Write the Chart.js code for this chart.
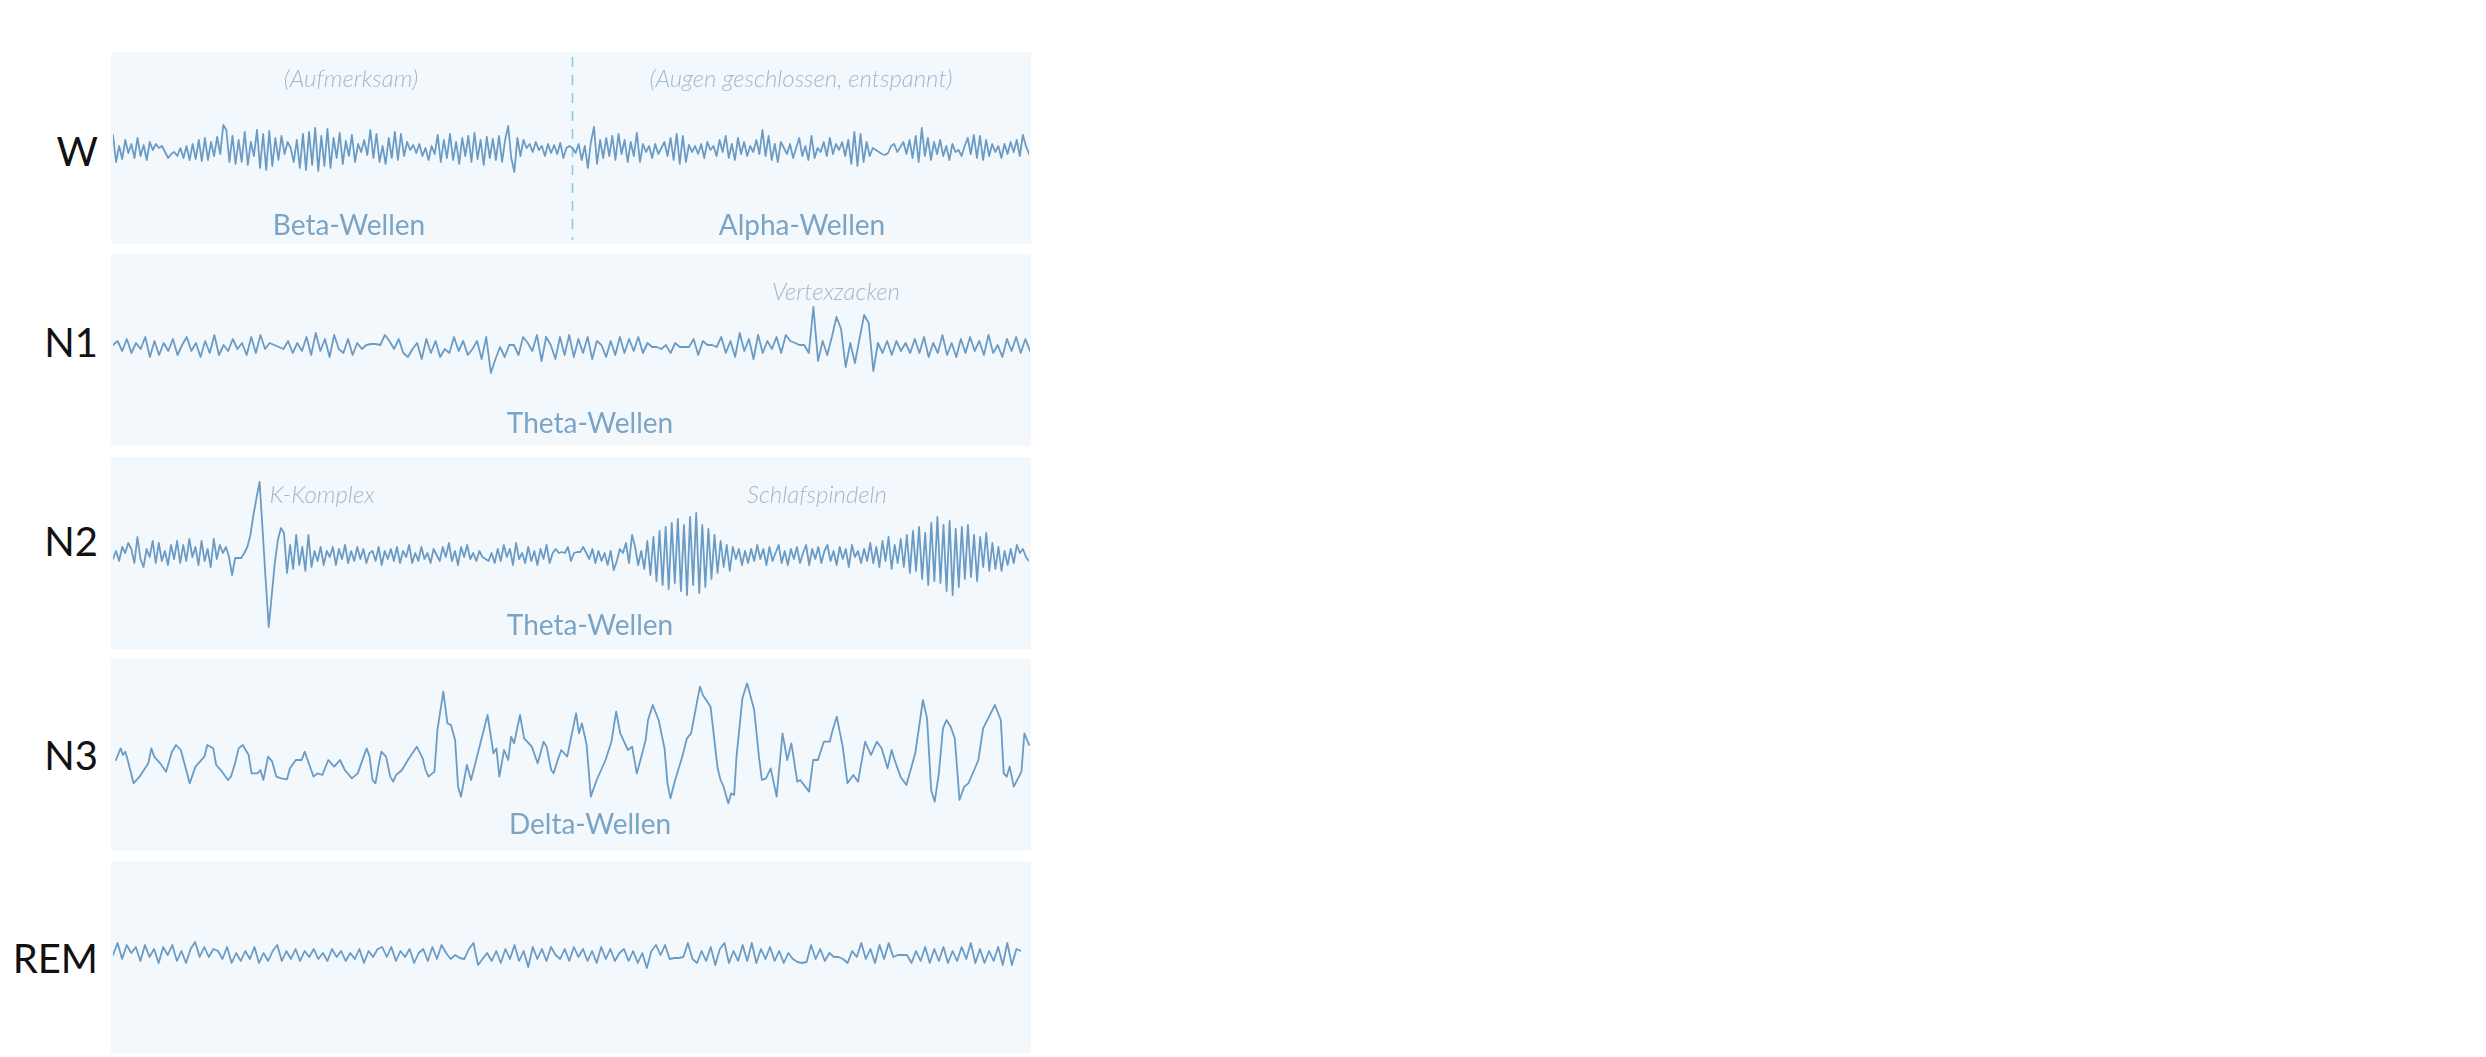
<!DOCTYPE html>
<html lang="de">
<head>
<meta charset="utf-8">
<title>Schlafstadien EEG</title>
<script src="https://cdn.jsdelivr.net/npm/chart.js@4.4.1/dist/chart.umd.min.js"></script>
<style>
  html, body { margin:0; padding:0; background:#ffffff; width:2486px; height:1057px; overflow:hidden;
    font-family: Lato, "Open Sans", "DejaVu Sans", sans-serif; }
  .panel { position:absolute; left:111px; width:920px; height:192px; background:#f3f8fd; }
  .panel canvas { position:absolute; left:0; top:0; }
  .stage { position:absolute; left:0; width:98px; text-align:right; font-size:40px; line-height:40px;
    color:#111111; transform:translateY(-50%); }
  .wname { position:absolute; font-size:28px; line-height:28px; color:#7aa4c6; white-space:nowrap;
    transform:translate(-50%,-50%); }
  .note { position:absolute; font-size:24px; line-height:24px; color:#a2b9cb; font-style:italic; font-weight:300;
    white-space:nowrap; transform:translate(-50%,-50%); }
</style>
</head>
<body>
<div id="root"></div>
<script>
// ---------------- DATA ----------------
const stageLabels = ['W', 'N1', 'N2', 'N3', 'REM'];
const waveNames = ['Beta-Wellen', 'Alpha-Wellen', 'Theta-Wellen', 'Theta-Wellen', 'Delta-Wellen'];
const notes = ['(Aufmerksam)', '(Augen geschlossen, entspannt)', 'Vertexzacken', 'K-Komplex', 'Schlafspindeln'];

// W: beta (attentive) followed by alpha (eyes closed)
const wBeta = [
  15, -12, 4, -9, 10, -3, 6, -8, 12, -6,
  5, -10, 8, 0, 6, 2, 4, -2, -8, -4,
  -2, -6, 2, -8, 4, -10, 6, -9, 10, -11,
  12, -10, 8, -6, 13, -4, 25, 20, -12, 14,
  -14, 10, -12, 18, -15, 8, -6, 20, -18, 16,
  -20, 19, -16, 12, -10, 14, -4, 8, 2, -12,
  10, -18, 16, -20, 18, -15, 22, -21, 14, -16,
  21, -18, 12, -8, 17, -14, 9, -6, 15, -12,
  6, -2, 10, -5, 20, -8, 16, -12, 4, -14,
  12, -8, 18, -10, 16, -6, 8, 0, 5, -3,
  6, -6, 2, -10, 4, -4, 15, -12, 10, -8,
  16, -10, 8, -14, 12, -6, 14, -12, 17, -9,
  10, -15, 13, -8, 11, -10, 14, -12, 10, 24,
  -8, -22, 12, -6, 10, 2, 6, -2, 8, 0,
  4, -6, 6, -3, 5, -4, 7, -8, 2, 4
];
const wAlpha = [
  2, -3, 6, -10, 4, -18, 8, 23, -14, 10,
  -8, 12, -6, 14, -10, 16, -4, 10, -12, 8,
  -6, 17, -12, 6, -2, 4, -8, 6, -4, 2,
  8, -6, 12, -10, 16, -14, 14, -12, 5, -2,
  4, -4, 6, -8, 8, 0, 4, -6, 10, -2,
  14, -8, 6, -10, 12, -4, 8, -6, 4, -2,
  10, -4, 20, -6, 14, -10, 6, -12, 8, 2,
  -4, 6, -8, 2, 12, -6, 4, -10, 14, -8,
  2, -2, 8, -6, 12, -4, 6, 0, 8, -6,
  10, -14, 18, -16, 16, -12, 8, -6, 2, 0,
  -2, -4, -5, -3, 4, 6, -2, 3, 8, -4,
  10, -8, 14, -12, 22, -6, 12, -10, 8, -4,
  10, -6, 4, -10, 6, -2, 0, -6, 4, 12,
  -4, 15, -8, 14, -10, 10, -6, 6, -2, 4,
  -8, 6, -4, 8, -2, 10, -6, 15, 4, -4
];

// N1: theta with vertex waves
const n1Values = [
  2, 6, -4, 8, -6, 4, -2, 10, -10, 6,
  -8, 4, -4, 8, -8, 2, 10, -4, 4, -10,
  6, -6, 12, -8, 2, -4, 8, -2, 4, -8,
  10, -6, 12, -2, 4, 2, 0, -2, 6, -6,
  4, -4, 10, -8, 14, -4, 8, -10, 12, -2,
  -6, 8, -8, 4, -2, 2, 3, 3, 2, 12,
  6, -2, 8, -6, -10, -2, 4, -12, 8, -6,
  6, -10, -2, -6, 10, -4, 6, -8, -2, 6,
  -12, 10, -26, -12, 0, -10, 2, 2, -8, 10,
  4, -4, 12, -14, 10, 2, -12, 10, -8, 12,
  -10, 8, -6, 10, -12, 6, 2, -10, 6, -8,
  10, -6, 8, -4, 10, -6, 4, 0, 0, -2,
  2, -6, 4, 0, 0, 0, 8, -8, 6, 2,
  2, 0, 10, -6, 6, -10, 14, -4, 8, -12,
  12, -6, 6, -2, 10, -6, 12, 6, 4, 2,
  2, -6, 40, -14, 6, -8, 10, 30, 18, -20,
  4, -16, 8, 32, 24, -24, 4, -6, 6, -8,
  6, -4, 4, -6, 8, -6, 10, -10, 4, -6,
  12, -8, 4, -10, 8, -6, 10, -4, 6, -8,
  12, -6, 2, -10, 8, -4, 10, -6, 8, -4
];

// N2: theta with K-complex and sleep spindles
const n2Values = [
  -4, 4, -6, 8, 2, 12, 6, -8, 18, -4,
  -12, 6, -2, 14, -8, 12, -6, 4, -10, 10,
  -4, 14, -8, 10, -6, 16, -2, 8, -10, 14,
  -6, 6, -12, 16, -4, 10, 2, 8, -2, -20,
  -3, -3, -3, 2, 8, 20, 40, 57, 73, 25,
  -25, -72, -40, -8, 15, 27, 22, -18, 10, -14,
  20, -10, 8, -16, 20, -12, 4, -6, 8, -10,
  4, -2, 8, -10, 6, -4, 10, -8, 4, -6,
  8, -4, 6, -8, 2, 4, -6, 8, -10, 4,
  -4, 6, -6, 8, -8, 4, -2, 10, -8, 2,
  -6, 8, -4, 2, -8, 6, 0, -6, 8, -2,
  12, -6, 4, -10, 8, -2, 10, -4, 2, -6,
  4, -2, -4, -6, 2, -8, 6, -6, 10, -2,
  6, -10, 12, -4, 2, -8, 8, -6, 4, -10,
  6, -4, 10, -8, 2, 6, 2, 3, 2, 8,
  -6, 2, 3, 3, 8, 2, -4, 6, -8, 4,
  -6, 2, -10, 4, -15, -6, 6, 2, 12, -8,
  20, 8, -10, 4, -14, 14, -20, 18, -26, 24,
  -30, 28, -34, 32, -28, 36, -36, 30, -40, 38,
  -30, 42, -38, 30, -32, 26, -24, 20, -18, 14,
  -12, 10, -16, 8, -4, 6, -10, 4, -8, 6,
  -6, 10, -4, 6, -10, 8, -6, 2, 10, -8,
  4, -10, 6, -4, 8, -8, 2, 10, -10, 6,
  -4, 8, -8, 4, 10, -6, 4, -10, 8, -4,
  6, -12, 10, -2, 4, -8, 6, -6, 12, -8,
  8, -12, 14, -6, 18, -14, 10, -8, 16, -12,
  20, -18, 24, -16, 28, -24, 22, -30, 32, -26,
  38, -28, 30, -36, 34, -40, 26, -32, 28, -24,
  30, -22, 20, -26, 18, -12, 22, -16, 12, -14,
  8, -16, 4, -10, 6, -8, 10, 2, 6, -2,
  -6
];

// N3: delta waves (irregular sample times)
const n3Samples = [
  10, 18, 22, 26, 30, 40, 50, 65, 70, 75,
  85, 95, 105, 112, 120, 130, 135, 145, 160, 165,
  175, 180, 190, 200, 205, 212, 218, 225, 235, 240,
  250, 255, 260, 268, 275, 282, 290, 300, 305, 315,
  325, 330, 335, 345, 352, 360, 370, 375, 380, 390,
  398, 410, 420, 430, 435, 440, 445, 450, 455, 460,
  468, 475, 480, 485, 495, 505, 520, 530, 535, 540,
  550, 555, 565, 572, 578, 585, 590, 595, 605, 612,
  625, 640, 650, 655, 660, 668, 675, 680, 685, 695,
  702, 715, 725, 735, 740, 748, 752, 758, 765, 775,
  790, 795, 800, 808, 815, 825, 840, 850, 858, 865,
  878, 885, 893, 900, 908, 912, 920, 930, 940, 945,
  950, 958, 970, 978, 985, 1000, 1005, 1018, 1030, 1035,
  1040, 1048, 1053, 1058, 1062, 1072, 1080, 1092, 1100, 1105,
  1112, 1120, 1130, 1140, 1148, 1155, 1165, 1170, 1185, 1192,
  1200, 1210, 1220, 1225, 1232, 1242, 1250, 1260, 1268, 1280,
  1290, 1300, 1308, 1318, 1325, 1330, 1340, 1350, 1365, 1378,
  1385, 1392, 1398, 1405, 1412, 1418, 1425, 1432, 1440, 1448,
  1455, 1465, 1472, 1480, 1490, 1500, 1510, 1515, 1520, 1525,
  1532, 1545, 1550, 1558
];
const n3Values = [
  10, 45, 25, 35, 10, -60, -40, 0, 45, 20,
  0, -25, 35, 55, 40, -25, -60, -10, 20, 55,
  45, -5, -25, -50, -40, 0, 45, 55, 25, -30,
  -30, -20, -50, 20, 5, -40, -45, -48, -15, 10,
  10, 35, 10, -40, -30, -35, 10, 0, -10, 10,
  -20, -45, -30, 20, 45, 20, -50, -60, -10, 35,
  20, -40, -55, -35, -20, 10, 50, 15, -20, -40,
  -25, 100, 215, 120, 115, 70, -70, -100, -5, -50,
  40, 145, 30, 45, -40, 40, 10, 80, 60, 145,
  75, 50, 0, 65, 50, -20, -30, 5, 40, 20,
  150, 90, 120, 55, -100, -50, 10, 65, 155, 90,
  40, 50, -30, 15, 70, 130, 175, 130, 45, -60,
  -105, -50, 20, 75, 90, 230, 205, 170, -15, -50,
  -70, -120, -90, -95, 20, 195, 240, 160, 20, -50,
  -45, -15, -100, 90, 10, 60, -55, -50, -85, 10,
  10, 65, 65, 100, 140, 50, -60, -35, -55, 65,
  25, 65, 45, -15, 40, 10, -40, -65, 30, 190,
  135, -80, -115, -30, 105, 130, 110, 75, -110, -70,
  -60, -20, 10, 105, 140, 175, 130, -30, -40, -10,
  -70, -25, 90, 55
];

// REM: low-amplitude mixed frequency
const remValues = [
  0, 12, -4, 10, 2, 8, -6, 10, -2, 6,
  -8, 8, 0, 10, -6, 4, -8, 6, 13, -2,
  8, -2, 6, 4, -4, 8, -8, 2, -6, 4,
  -4, 8, -8, 2, -6, 4, 10, -6, 4, -4,
  6, -6, 4, -2, 6, -4, 2, -6, 6, -2,
  4, -6, 2, -4, 6, -8, 4, -2, 6, 8,
  -2, 8, -6, 4, -2, 6, -8, 2, 6, -6,
  8, -4, 10, 2, -4, 0, -3, -4, 6, 12,
  -10, -4, 2, -6, 4, -8, 6, -4, 10, -6,
  4, -12, 8, -4, 6, -6, 8, 0, -4, 6,
  -6, 8, -2, 6, -6, 4, -8, 8, -4, 6,
  -6, 2, 6, -6, 4, -8, 2, -13, 4, 10,
  0, 10, -4, -3, -3, -2, 12, -4, -8, 4,
  -6, 8, -10, 6, 12, -8, 4, -6, 10, -6,
  12, -8, 6, -4, 8, -6, 4, -8, 2, -4,
  -7, -8, -7, 10, -4, 6, -6, 2, -2, -2,
  -4, -8, 4, -2, 12, -4, 6, -8, 10, -4,
  12, -2, 0, 0, 0, -8, 4, -6, 8, -8,
  6, -6, 8, -8, 4, -6, 8, -4, 12, -8,
  6, -8, 4, -6, 8, -10, 12, -10, 6, 4
];

// ---------------- LAYOUT / STYLE ----------------
const LINE_COLOR = '#6a9bc4';
const panelTops = [52, 254, 457, 659, 861];
const stageY = [151, 342, 541, 755, 958];
const waveNamePos = [[349, 224], [802, 224], [590, 422], [590, 624], [590, 823]];
const notePos = [[351, 78], [801, 78], [836, 291], [322, 494], [817, 494]];

const root = document.getElementById('root');
function addText(cls, text, x, y) {
  const d = document.createElement('div');
  d.className = cls; d.textContent = text;
  if (x !== null) d.style.left = x + 'px';
  d.style.top = y + 'px';
  root.appendChild(d);
}
stageLabels.forEach((s, i) => addText('stage', s, null, stageY[i]));

function makePanel(i) {
  const p = document.createElement('div');
  p.className = 'panel'; p.style.top = panelTops[i] + 'px';
  const c = document.createElement('canvas');
  c.width = 920; c.height = 192;
  p.appendChild(c); root.appendChild(p);
  return c;
}

function waveChart(canvas, xs, ys, xr, yr, pad, extraPlugins) {
  const pts = ys.map((v, i) => ({ x: xs ? xs[i] : i, y: v }));
  return new Chart(canvas, {
    type: 'line',
    data: { datasets: [{ data: pts, borderColor: LINE_COLOR, borderWidth: 1.8, pointRadius: 0,
      tension: 0, fill: false, borderJoinStyle: 'round', borderCapStyle: 'round' }] },
    options: {
      responsive: false, animation: false, events: [],
      layout: { padding: { left: pad[0], right: pad[1], top: 0, bottom: 0 } },
      plugins: { legend: { display: false }, tooltip: { enabled: false } },
      scales: {
        x: { type: 'linear', display: false, min: xr[0], max: xr[1] },
        y: { type: 'linear', display: false, min: yr[0], max: yr[1] }
      }
    },
    plugins: extraPlugins || []
  });
}

// W panel with dashed separator between beta and alpha
const wValues = wBeta.concat(wAlpha);
const splitPlugin = {
  id: 'split',
  beforeDatasetsDraw(chart) {
    const ctx = chart.ctx, a = chart.chartArea;
    const x = Math.round(chart.scales.x.getPixelForValue(wBeta.length - 0.2)) + 0.5;
    ctx.save();
    ctx.strokeStyle = '#8ec6de'; ctx.lineWidth = 1.6; ctx.setLineDash([10, 8]);
    ctx.beginPath(); ctx.moveTo(x, a.top + 5); ctx.lineTo(x, a.bottom - 4); ctx.stroke();
    ctx.restore();
  }
};
waveChart(makePanel(0), null, wValues, [0, wValues.length - 1], [-94, 98], [2, 2], [splitPlugin]);
waveChart(makePanel(1), null, n1Values, [0, n1Values.length - 1], [-99, 93], [2, 1], []);
waveChart(makePanel(2), null, n2Values, [0, n2Values.length - 1], [-94, 98], [2, 2], []);
waveChart(makePanel(3), n3Samples, n3Values, [1.7, 1561.2], [-263, 313], [0, 0], []);
waveChart(makePanel(4), null, remValues, [0, remValues.length - 1], [-98, 94], [2, 10], []);

waveNames.forEach((t, i) => addText('wname', t, waveNamePos[i][0], waveNamePos[i][1]));
notes.forEach((t, i) => addText('note', t, notePos[i][0], notePos[i][1]));
</script>
</body>
</html>
